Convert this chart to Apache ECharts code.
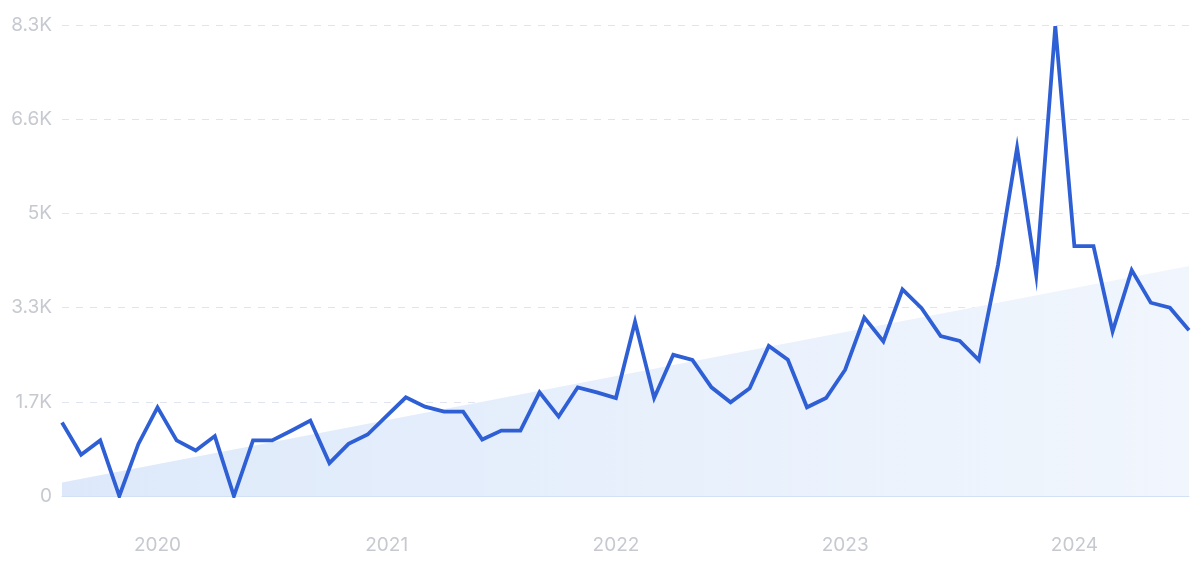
<!DOCTYPE html>
<html>
<head>
<meta charset="utf-8">
<script src="https://cdn.jsdelivr.net/npm/echarts@6/dist/echarts.min.js"></script>
<style>
html,body{margin:0;padding:0;background:#fff;}
#c{width:1200px;height:562px;}
</style>
</head>
<body>
<div id="c"></div>
<script>
// Monthly categories Aug 2019 .. Jul 2024
const months = [
  '2019-08','2019-09','2019-10','2019-11','2019-12',
  '2020-01','2020-02','2020-03','2020-04','2020-05','2020-06','2020-07','2020-08','2020-09','2020-10','2020-11','2020-12',
  '2021-01','2021-02','2021-03','2021-04','2021-05','2021-06','2021-07','2021-08','2021-09','2021-10','2021-11','2021-12',
  '2022-01','2022-02','2022-03','2022-04','2022-05','2022-06','2022-07','2022-08','2022-09','2022-10','2022-11','2022-12',
  '2023-01','2023-02','2023-03','2023-04','2023-05','2023-06','2023-07','2023-08','2023-09','2023-10','2023-11','2023-12',
  '2024-01','2024-02','2024-03','2024-04','2024-05','2024-06','2024-07'
];
const searches = [
  1296, 727, 980, 0, 917,
  1561, 980, 803, 1056, 0, 980, 980, 1150, 1329, 580, 919, 1083,
  1411, 1739, 1575, 1487, 1487, 995, 1153, 1153, 1827, 1399, 1915, 1827,
  1727, 3068, 1727, 2488, 2400, 1915, 1651, 1897, 2646, 2400, 1563, 1727,
  2225, 3144, 2723, 3642, 3310, 2818, 2733, 2393, 4070, 6137, 3898, 8281,
  4402, 4402, 2901, 3980, 3406, 3318, 2920
];
// Trend line end values (first and last month)
const trendStart = 240;
const trendEnd = 4055;
const yTicks = [0, 1660, 3320, 4980, 6640, 8300];

const chart = echarts.init(document.getElementById('c'), null, {renderer: 'canvas'});
const labelFont = {color: '#c6c9d0', fontSize: 19, fontFamily: 'Inter, "Noto Sans", sans-serif'};

chart.setOption({
  animation: false,
  grid: {left: 62, right: 11, top: 25, bottom: 66},
  xAxis: {
    type: 'category',
    data: months,
    boundaryGap: false,
    axisLine: {show: true, lineStyle: {color: '#d3e1f6', width: 1}},
    axisTick: {show: false},
    splitLine: {show: false},
    axisLabel: Object.assign({
      margin: 40,
      interval: function (idx, val) { return val.endsWith('-01'); },
      formatter: function (val) { return val.slice(0, 4); }
    }, labelFont)
  },
  yAxis: {
    type: 'value',
    min: yTicks[0],
    max: yTicks[yTicks.length - 1],
    interval: yTicks[1] - yTicks[0],
    axisLine: {show: false},
    axisTick: {show: false},
    splitLine: {show: true, lineStyle: {color: '#dfe4ee', type: [7, 7], width: 1}},
    axisLabel: Object.assign({
      margin: 10,
      formatter: function (v) {
        if (v === 0) return '0';
        let s = (v / 1000).toFixed(1);
        if (s.endsWith('.0')) s = s.slice(0, -2);
        return s + 'K';
      }
    }, labelFont)
  },
  series: [
    {
      type: 'line',
      data: [[0, trendStart], [months.length - 1, trendEnd]],
      symbol: 'none',
      lineStyle: {width: 0, opacity: 0},
      areaStyle: {
        opacity: 1,
        color: new echarts.graphic.LinearGradient(0, 0, 1, 0, [
          {offset: 0, color: '#dde9fa'},
          {offset: 1, color: '#f1f6fd'}
        ])
      },
      z: 1
    },
    {
      type: 'line',
      data: searches,
      symbol: 'none',
      lineStyle: {color: '#2f5fd5', width: 3.8, join: 'miter'},
      z: 3
    }
  ]
});
</script>
</body>
</html>
